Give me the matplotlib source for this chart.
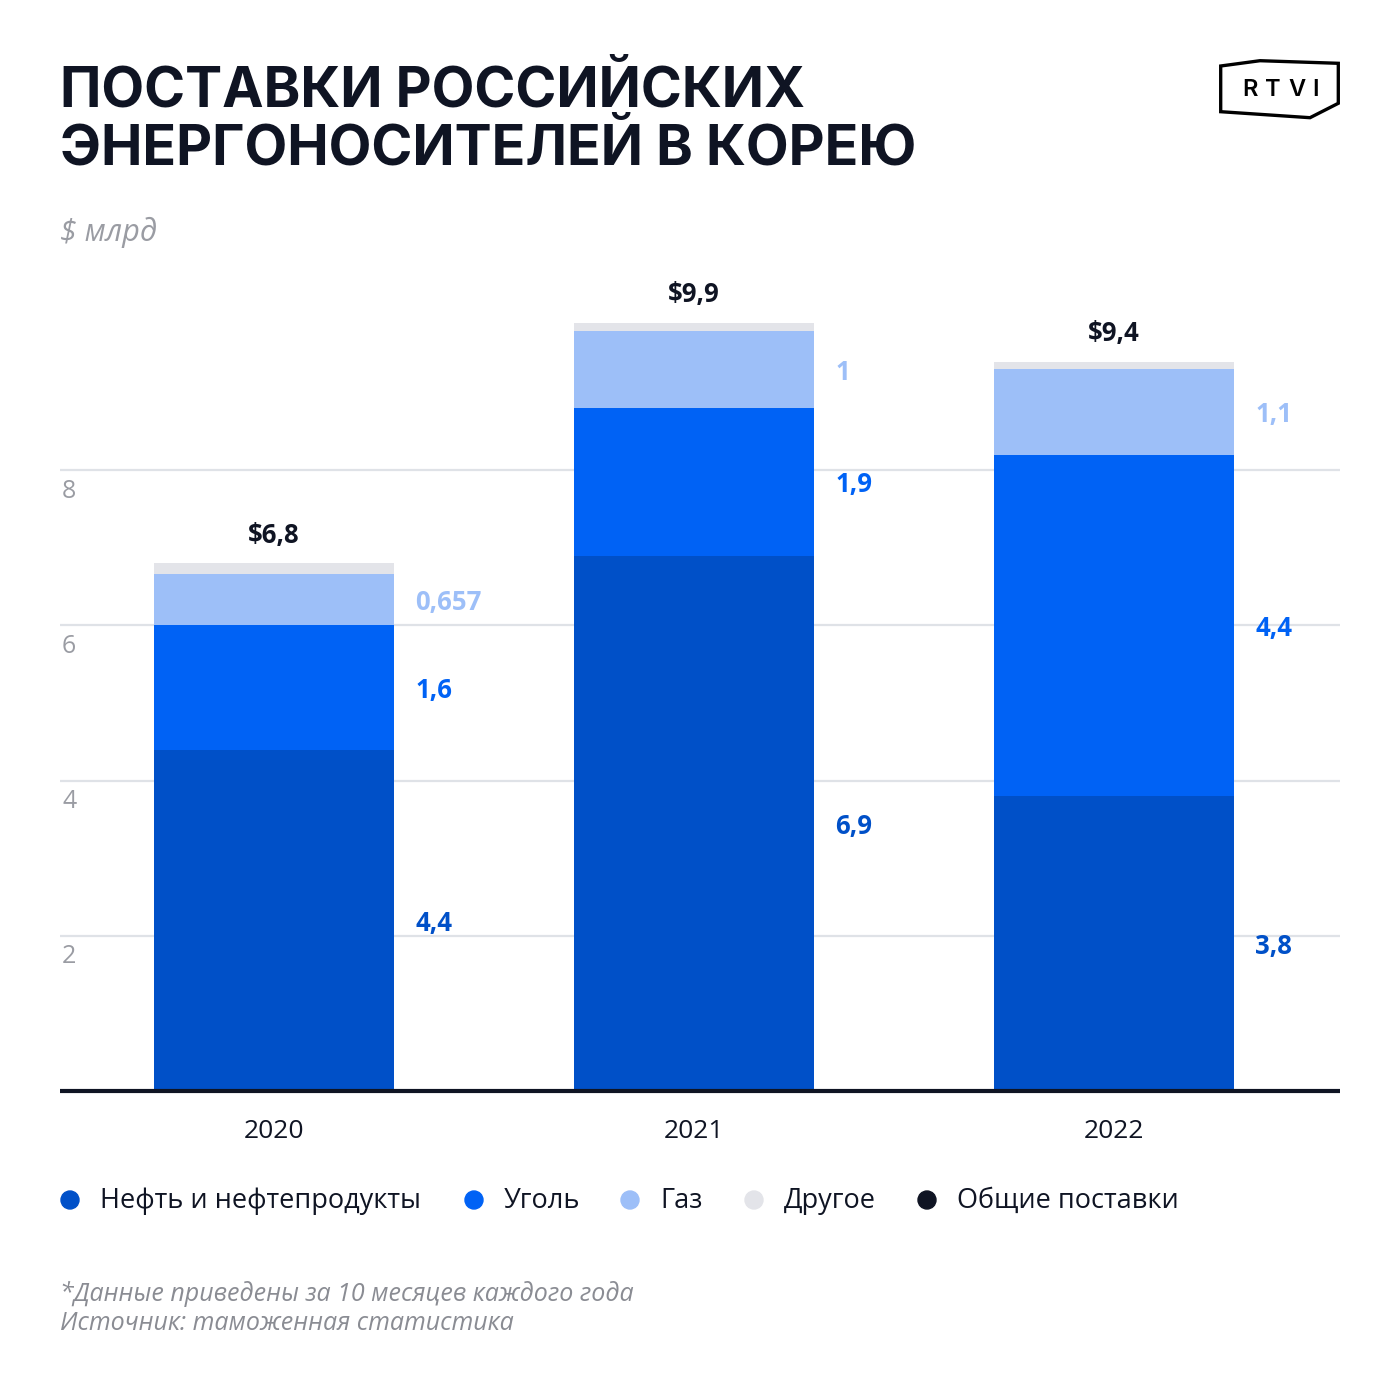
import matplotlib.pyplot as plt
import matplotlib.patches as mpatches
import numpy as np

plt.rcParams['font.family'] = ['Open Sans', 'DejaVu Sans']

# данные (млрд $)
years = ['2020', '2021', '2022']
oil = [4.4, 6.9, 3.8]
coal = [1.6, 1.9, 4.4]
gas = [0.657, 1.0, 1.1]
other = [0.143, 0.1, 0.1]
totals = [6.8, 9.9, 9.4]
oil_labels = ['4,4', '6,9', '3,8']
coal_labels = ['1,6', '1,9', '4,4']
gas_labels = ['0,657', '1', '1,1']
total_labels = ['$6,8', '$9,9', '$9,4']
yticks = [2, 4, 6, 8]
legend_names = ['Нефть и нефтепродукты', 'Уголь', 'Газ', 'Другое', 'Общие поставки']

c_oil = '#0050C8'
c_coal = '#0062F5'
c_gas = '#9DBFF8'
c_other = '#E3E4E9'
c_dark = '#0F1423'
c_gray = '#9A9CA3'

W = 1400


def fx(x):
    return x / W


def fy(y):
    return 1 - y / W


fig = plt.figure(figsize=(14, 14), dpi=100)
fig.patch.set_facecolor('white')

# оси: слева 60px, справа 1340px, ноль на 1091px
ax = fig.add_axes([fx(60), fy(1091), fx(1280), (1091 - 315) / W])
ax.set_xlim(-0.51, 2.538)
ax.set_ylim(0, 10)
for s in ax.spines.values():
    s.set_visible(False)
ax.set_xticks([])
ax.set_yticks([])

for v in yticks:
    ax.axhline(v, color='#DFE2E7', lw=1.6, zorder=0)
    ax.annotate(str(v), xy=(0, v), xycoords=('axes fraction', 'data'),
                xytext=(1.5, -15), textcoords='offset points',
                ha='left', va='center', fontsize=18, color=c_gray)

x = np.arange(len(years))
bw = 240 / 420
oil_a = np.array(oil)
coal_a = np.array(coal)
gas_a = np.array(gas)
other_a = np.array(other)

ax.bar(x, oil_a, bw, color=c_oil, zorder=2)
ax.bar(x, coal_a, bw, bottom=oil_a, color=c_coal, zorder=2)
ax.bar(x, gas_a, bw, bottom=oil_a + coal_a, color=c_gas, zorder=2)
ax.bar(x, other_a, bw, bottom=oil_a + coal_a + gas_a, color=c_other, zorder=2)

ax.axhline(0, color=c_dark, lw=3, zorder=3, clip_on=False, solid_capstyle='butt')

lx = x + bw / 2 + 21 / 420
for i in range(len(years)):
    for val, lab, col in [(oil[i] / 2, oil_labels[i], c_oil),
                          (oil[i] + coal[i] / 2, coal_labels[i], c_coal),
                          (oil[i] + coal[i] + gas[i] / 2, gas_labels[i], c_gas)]:
        ax.annotate(lab, xy=(lx[i], val), xytext=(0, -2), textcoords='offset points',
                    ha='left', va='center', fontsize=18.5, fontweight='bold', color=col)
    ax.annotate(total_labels[i], xy=(x[i], totals[i]), xytext=(0, 20),
                textcoords='offset points', ha='center', va='center',
                fontsize=18.5, fontweight='bold', color=c_dark)
    ax.annotate(years[i], xy=(x[i], 0), xytext=(0, -29),
                textcoords='offset points', ha='center', va='center',
                fontsize=19, color=c_dark)

# заголовок
fig.text(fx(60), fy(91), 'ПОСТАВКИ РОССИЙСКИХ', ha='left', va='center',
         fontsize=40, fontweight='bold', color=c_dark, family=['Inter', 'DejaVu Sans'])
fig.text(fx(60), fy(149), 'ЭНЕРГОНОСИТЕЛЕЙ В КОРЕЮ', ha='left', va='center',
         fontsize=40, fontweight='bold', color=c_dark, family=['Inter', 'DejaVu Sans'])
fig.text(fx(60), fy(232), '$ млрд', ha='left', va='center', fontsize=22,
         style='italic', color=c_gray)

# логотип RTVI
logo = [(1220.7, 66), (1260, 60.7), (1338.3, 63.3), (1338.3, 103.3),
        (1310, 117.7), (1220.7, 111.7)]
poly = mpatches.Polygon([(fx(a), fy(b)) for a, b in logo], closed=True, fill=False,
                        edgecolor='black', lw=2.4, transform=fig.transFigure)
fig.add_artist(poly)
for ch, px in zip('RTVI', [1250, 1273, 1297, 1316]):
    fig.text(fx(px), fy(90), ch, ha='center', va='center', fontsize=17,
             fontweight='semibold', color='black', family=['Inter', 'DejaVu Sans'])

# легенда
leg_colors = [c_oil, c_coal, c_gas, c_other, c_dark]
leg_x = [70, 474, 630, 754, 927]
for name, col, px in zip(legend_names, leg_colors, leg_x):
    fig.add_artist(mpatches.Circle((fx(px), fy(1200)), 9 / W, color=col,
                                   transform=fig.transFigure))
    fig.text(fx(px + 30), fy(1201), name, ha='left', va='center', fontsize=19.5,
             color=c_dark)

# примечания
fig.text(fx(60), fy(1294), '*Данные приведены за 10 месяцев каждого года', ha='left',
         va='center', fontsize=18, style='italic', color='#8A8C93')
fig.text(fx(60), fy(1324), 'Источник: таможенная статистика', ha='left',
         va='center', fontsize=18, style='italic', color='#8A8C93')

plt.savefig('out.png', dpi=100, facecolor='white')
